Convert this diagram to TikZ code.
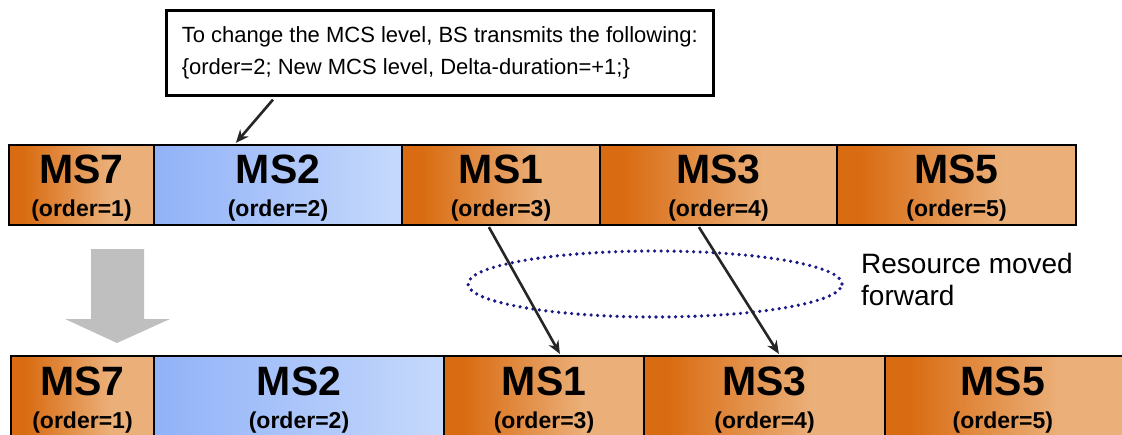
\documentclass[tikz,border=0pt]{standalone}
\usepackage{fontspec}
\setmainfont{Liberation Sans}
\usetikzlibrary{arrows.meta,shapes.geometric,fit,calc}
\definecolor{ordark}{RGB}{217,108,18}
\definecolor{orlight}{RGB}{235,176,122}
\definecolor{bldark}{RGB}{145,178,248}
\definecolor{bllight}{RGB}{198,217,252}
\definecolor{ringblue}{RGB}{25,25,135}
\definecolor{bigarrow}{RGB}{191,191,191}
\pgfdeclarehorizontalshading{orshade}{100bp}{color(0bp)=(ordark); color(30bp)=(ordark); color(60bp)=(orlight); color(100bp)=(orlight)}
\pgfdeclarehorizontalshading{blshade}{100bp}{color(0bp)=(bldark); color(25bp)=(bldark); color(75bp)=(bllight); color(100bp)=(bllight)}
\tikzset{
  slotbox/.style={draw=black, line width=2.2pt, inner sep=0pt},
  orslot/.style={slotbox, shading=orshade},
  blslot/.style={slotbox, shading=blshade},
  mslab/.style={font=\fontsize{41}{41}\selectfont\bfseries, inner sep=0pt, anchor=base},
  ordlab/.style={font=\fontsize{23}{23}\selectfont\bfseries, inner sep=0pt, anchor=base},
  callbox/.style={draw=black, line width=2.6pt, fill=white, inner sep=0pt, align=left,
    font=\fontsize{22}{32}\selectfont},
  conn/.style={line width=2.6pt, draw=black!85, -{Stealth[length=13pt,width=11pt]}},
  ring/.style={ellipse, draw=ringblue, line width=3.6pt, dash pattern=on 0pt off 6.5pt, line cap=round, inner sep=0pt},
  note/.style={font=\fontsize{28}{32}\selectfont, align=left, inner sep=0pt}
}
\begin{document}
\begin{tikzpicture}[x=1pt,y=-1pt]
\useasboundingbox (0,0) rectangle (1122,434);
\clip (0,0) rectangle (1122,434);
\fill[white] (0,0) rectangle (1122,434);
% callout
\node[callbox, anchor=north west, minimum width=547pt, minimum height=85pt] (call) at (165,9)
  {To change the MCS level, BS transmits the following:\\\{order=2; New MCS level, Delta-duration=+1;\}};
% top row
\node[orslot, fit={(9,145)(154,225)}] (t7) {};
\node[blslot, fit={(154,145)(402,225)}] (t2) {};
\node[orslot, fit={(402,145)(600,225)}] (t1) {};
\node[orslot, fit={(600,145)(837,225)}] (t3) {};
\node[orslot, fit={(837,145)(1076,225)}] (t5) {};
\foreach \n/\m/\o in {t7/MS7/1, t2/MS2/2, t1/MS1/3, t3/MS3/4, t5/MS5/5}{
  \node[mslab] at ($(\n.north)+(0,40)$) {\m};
  \node[ordlab] at ($(\n.north)+(0,73)$) {(order=\o)};
}
% bottom row
\node[orslot, fit={(11,356)(154,450)}] (b7) {};
\node[blslot, fit={(154,356)(444,450)}] (b2) {};
\node[orslot, fit={(444,356)(644,450)}] (b1) {};
\node[orslot, fit={(644,356)(885,450)}] (b3) {};
\node[orslot, fit={(885,356)(1135,450)}] (b5) {};
\foreach \n/\m/\o in {b7/MS7/1, b2/MS2/2, b1/MS1/3, b3/MS3/4}{
  \node[mslab] at ($(\n.north)+(0,41)$) {\m};
  \node[ordlab] at ($(\n.north)+(0,74)$) {(order=\o)};
}
\node[mslab] at ($(b5.north west)+(119,41)$) {MS5};
\node[ordlab] at ($(b5.north west)+(119,74)$) {(order=5)};
% big gray arrow
\fill[bigarrow] (91,249) -- (144,249) -- (144,319) -- (170,319) -- (117,343) -- (65,319) -- (91,319) -- cycle;
% ring and note
\node[ring, minimum width=374pt, minimum height=66pt] (ell) at (655,284) {};
\node[note, anchor=north west] (res) at (861,253) {Resource moved\\forward};
% connectors
\draw[conn] ($(call.south west)+(108,3)$) -- ($(t2.north west)+(83,-1)$);
\draw[conn] ($(t1.south west)+(88,1)$) -- ($(b1.north west)+(117,-1)$);
\draw[conn] ($(t3.south west)+(100,1)$) -- ($(b3.north west)+(136,-1)$);
\end{tikzpicture}
\end{document}
